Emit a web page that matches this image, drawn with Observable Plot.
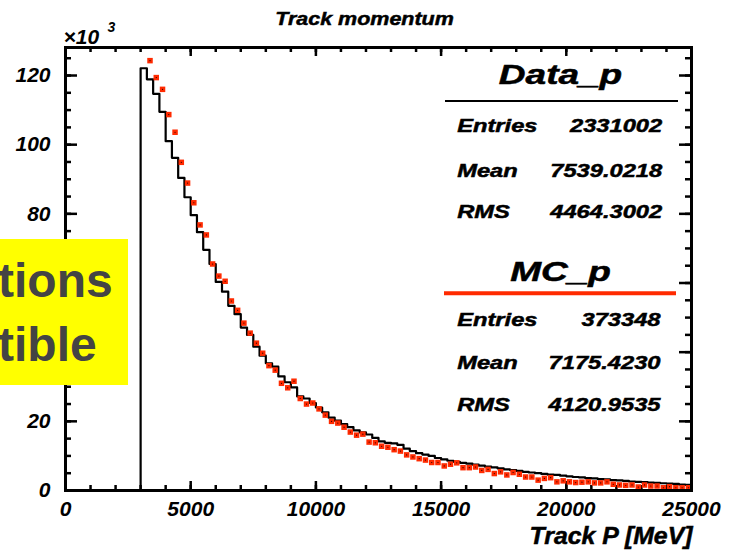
<!DOCTYPE html>
<html>
<head>
<meta charset="utf-8">
<script src="https://cdn.jsdelivr.net/npm/d3@7"></script>
<script src="https://cdn.jsdelivr.net/npm/@observablehq/plot@0.6"></script>
<style>
  body { margin: 0; background: #fff; }
  #wrap { position: relative; width: 731px; height: 551px; overflow: hidden; background: #fff; }
  #note { position: absolute; left: 0; top: 239px; }
</style>
</head>
<body>
<div id="wrap"></div>
<script>
// Track momentum spectrum: data histogram (black steps) against MC (red squares),
// 250 MeV bins starting at 3 GeV, counts in units of 10^3.
const binStart = 3000;
const binWidth = 250;

const dataCounts = [
  122.1, 118.9, 114.7, 109.5, 101.0, 96.2, 90.4, 84.8, 79.6, 74.7,
  69.6, 65.5, 60.3, 57.5, 53.4, 51.0, 47.1, 45.0, 41.6, 39.0,
  36.8, 35.8, 33.0, 31.3, 29.8, 27.2, 26.6, 25.3, 24.0, 22.6,
  21.1, 20.2, 19.2, 18.3, 17.4, 16.8, 16.2, 15.2, 14.2, 13.8,
  13.6, 13.2, 12.1, 11.4, 10.8, 10.4, 10.0, 9.4, 9.0, 8.6,
  8.3, 8.0, 7.8, 7.5, 7.2, 6.9, 6.7, 6.4, 6.1, 5.9,
  5.7, 5.4, 5.2, 5.0, 4.8, 4.6, 4.5, 4.3, 4.1, 3.9,
  3.8, 3.6, 3.5, 3.3, 3.2, 3.0, 2.9, 2.8, 2.6, 2.5,
  2.4, 2.3, 2.2, 2.1, 2.0, 1.9, 1.7, 1.6
];

const mcCounts = [
  null, 124.3, 119.4, 116.0, 108.7, 103.6, 94.9, 88.9, 83.2, 76.8,
  73.9, 65.5, 62.0, 60.5, 54.8, 52.1, 48.4, 45.5, 42.6, 39.7,
  36.1, 34.8, 31.0, 29.7, 31.6, 26.6, 25.0, 25.3, 23.6, 21.8,
  20.0, 19.5, 18.3, 16.9, 16.0, 16.3, 14.0, 13.8, 12.8, 12.5,
  11.8, 11.4, 10.3, 9.7, 9.2, 8.8, 8.1, 8.1, 7.1, 7.6,
  8.0, 6.6, 6.6, 6.8, 5.8, 6.1, 4.9, 5.4, 4.5, 5.2,
  4.7, 3.9, 3.9, 3.0, 3.5, 3.7, 2.5, 2.8, 2.5, 2.3,
  2.4, 2.5, 2.2, 2.2, 2.5, 1.8, 1.6, 1.5, 1.6, 1.0,
  1.6, 1.3, 1.3, 0.8, 1.1, 0.8, 0.8, 0.8
];

const xTicks = [0, 5000, 10000, 15000, 20000, 25000];
const yTicks = [0, 20, 40, 60, 80, 100, 120];

const statNames = ["Entries", "Mean", "RMS"];
const dataStats = ["2331002", "7539.0218", "4464.3002"];
const mcStats = ["373348", "7175.4230", "4120.9535"];

const xMax = 25000;
const yMax = 128.1;
const xMinor = d3.range(0, xMax + 1, 1000);
const yMinor = d3.range(0, yMax, 5);

// Step outline: rise at the first edge, hold each bin, close at the right edge
const stepPoints = [{x: binStart, y: 0}]
  .concat(dataCounts.map((c, i) => ({x: binStart + i * binWidth, y: c})))
  .concat([{x: binStart + dataCounts.length * binWidth, y: dataCounts[dataCounts.length - 1]}]);

const mcPoints = mcCounts
  .map((c, i) => ({x: binStart + (i + 0.5) * binWidth, y: c}))
  .filter(d => d.y != null);

const W = 626, H = 443;          // frame size in px
const red = "#ff2a00";
const fontFamily = "'Liberation Sans', Arial, Helvetica, sans-serif";

const statMarks = [];
const rowsData = [84.7, 129, 170.3];
const rowsMC = [278, 321.3, 363];
statNames.forEach((name, i) => {
  statMarks.push(Plot.text([name], {frameAnchor: "top-left", dx: 391.7, dy: rowsData[i], textAnchor: "start", lineAnchor: "bottom", fontSize: 18.5}));
  statMarks.push(Plot.text([dataStats[i]], {frameAnchor: "top-left", dx: 596.7, dy: rowsData[i], textAnchor: "end", lineAnchor: "bottom", fontSize: 18.5}));
  statMarks.push(Plot.text([name], {frameAnchor: "top-left", dx: 391.7, dy: rowsMC[i], textAnchor: "start", lineAnchor: "bottom", fontSize: 18.5}));
  statMarks.push(Plot.text([mcStats[i]], {frameAnchor: "top-left", dx: 595, dy: rowsMC[i], textAnchor: "end", lineAnchor: "bottom", fontSize: 18.5}));
});

const chart = Plot.plot({
  width: 731,
  height: 551,
  marginLeft: 65,
  marginRight: 40,
  marginTop: 47,
  marginBottom: 61,
  x: {domain: [0, xMax]},
  y: {domain: [0, yMax]},
  style: {fontFamily, fontWeight: "bold", fontStyle: "italic", background: "#fff", color: "#000", overflow: "visible"},
  marks: [
    // axis labels
    Plot.axisX({ticks: xTicks, tickSize: 0, tickPadding: 11, fontSize: 21, tickFormat: d => String(d), label: null}),
    Plot.axisY({ticks: yTicks, tickSize: 0, tickPadding: 15, fontSize: 21, tickFormat: d => String(d), label: null}),
    // inward tick marks on all four sides
    Plot.tickY(yMinor, {y: d => d, insetRight: W - 6, strokeWidth: 2.5}),
    Plot.tickY(yTicks, {y: d => d, insetRight: W - 12, strokeWidth: 2.5}),
    Plot.tickY(yMinor, {y: d => d, insetLeft: W - 6, strokeWidth: 2.5}),
    Plot.tickY(yTicks, {y: d => d, insetLeft: W - 12, strokeWidth: 2.5}),
    Plot.tickX(xMinor, {x: d => d, insetTop: H - 5, strokeWidth: 2.5}),
    Plot.tickX(xTicks, {x: d => d, insetTop: H - 9, strokeWidth: 2.5}),
    Plot.tickX(xMinor, {x: d => d, insetBottom: H - 5, strokeWidth: 2.5}),
    Plot.tickX(xTicks, {x: d => d, insetBottom: H - 9, strokeWidth: 2.5}),
    // data histogram
    Plot.line(stepPoints, {x: "x", y: "y", curve: "step-after", stroke: "#000", strokeWidth: 2.2}),
    // MC points
    Plot.dot(mcPoints, {x: "x", y: "y", symbol: "square", r: 3.1, fill: red}),
    Plot.dot(mcPoints, {x: "x", y: "y", r: 0.6, fill: "#200"}),
    Plot.frame({stroke: "#000", strokeWidth: 3}),
    // titles
    Plot.text(["Track momentum"], {frameAnchor: "top", dx: -14, dy: -23, textAnchor: "middle", lineAnchor: "bottom", fontSize: 19}),
    Plot.text(["Track P [MeV]"], {frameAnchor: "bottom-right", dx: 1, dy: 53, textAnchor: "end", lineAnchor: "bottom", fontSize: 23}),
    Plot.text(["\u00d710"], {frameAnchor: "top-left", dx: -2, dy: -3.7, textAnchor: "start", lineAnchor: "bottom", fontSize: 21}),
    Plot.text(["3"], {frameAnchor: "top-left", dx: 42, dy: -16, textAnchor: "start", lineAnchor: "bottom", fontSize: 14}),
    // statistics boxes
    Plot.text(["Data_p"], {frameAnchor: "top-left", dx: 495, dy: 36, textAnchor: "middle", lineAnchor: "bottom", fontSize: 27}),
    Plot.text(["MC_p"], {frameAnchor: "top-left", dx: 495, dy: 233, textAnchor: "middle", lineAnchor: "bottom", fontSize: 27}),
    ...statMarks
  ]
});

const wrap = document.getElementById("wrap");
wrap.append(chart);

// Separator lines under the statistics box headers
const svg = d3.select(chart);
svg.append("line").attr("x1", 445).attr("x2", 678).attr("y1", 101).attr("y2", 101)
  .attr("stroke", "#000").attr("stroke-width", 2);
svg.append("line").attr("x1", 444).attr("x2", 676).attr("y1", 293.3).attr("y2", 293.3)
  .attr("stroke", red).attr("stroke-width", 4);

// Widen (and slightly embolden) the lettering of the statistics boxes and titles
const widen = new Map([
  ["Data_p", 1.37], ["MC_p", 1.37],
  ["Track momentum", 1.13], ["Track P [MeV]", 1.08]
]);
statNames.concat(dataStats, mcStats).forEach(s => widen.set(s, 1.28));
svg.selectAll("text").each(function () {
  const k = widen.get(this.textContent);
  if (!k) return;
  const w = this.getComputedTextLength();
  this.setAttribute("textLength", w * k);
  this.setAttribute("lengthAdjust", "spacingAndGlyphs");
  this.setAttribute("stroke", "#000");
  this.setAttribute("stroke-width", 0.5);
});

// Yellow annotation panel over the left edge
const note = d3.select(wrap).append("svg").attr("id", "note")
  .attr("width", 128).attr("height", 146);
note.append("rect").attr("width", 128).attr("height", 146).attr("fill", "#ffff00");
const noteLines = ["tions", "tible"];
note.selectAll("text").data(noteLines).join("text")
  .attr("x", -2)
  .attr("y", (d, i) => [57.7, 121.7][i])
  .attr("fill", "#444")
  .attr("font-family", fontFamily)
  .attr("font-weight", "bold")
  .attr("font-size", 48)
  .text(d => d);
</script>
</body>
</html>
